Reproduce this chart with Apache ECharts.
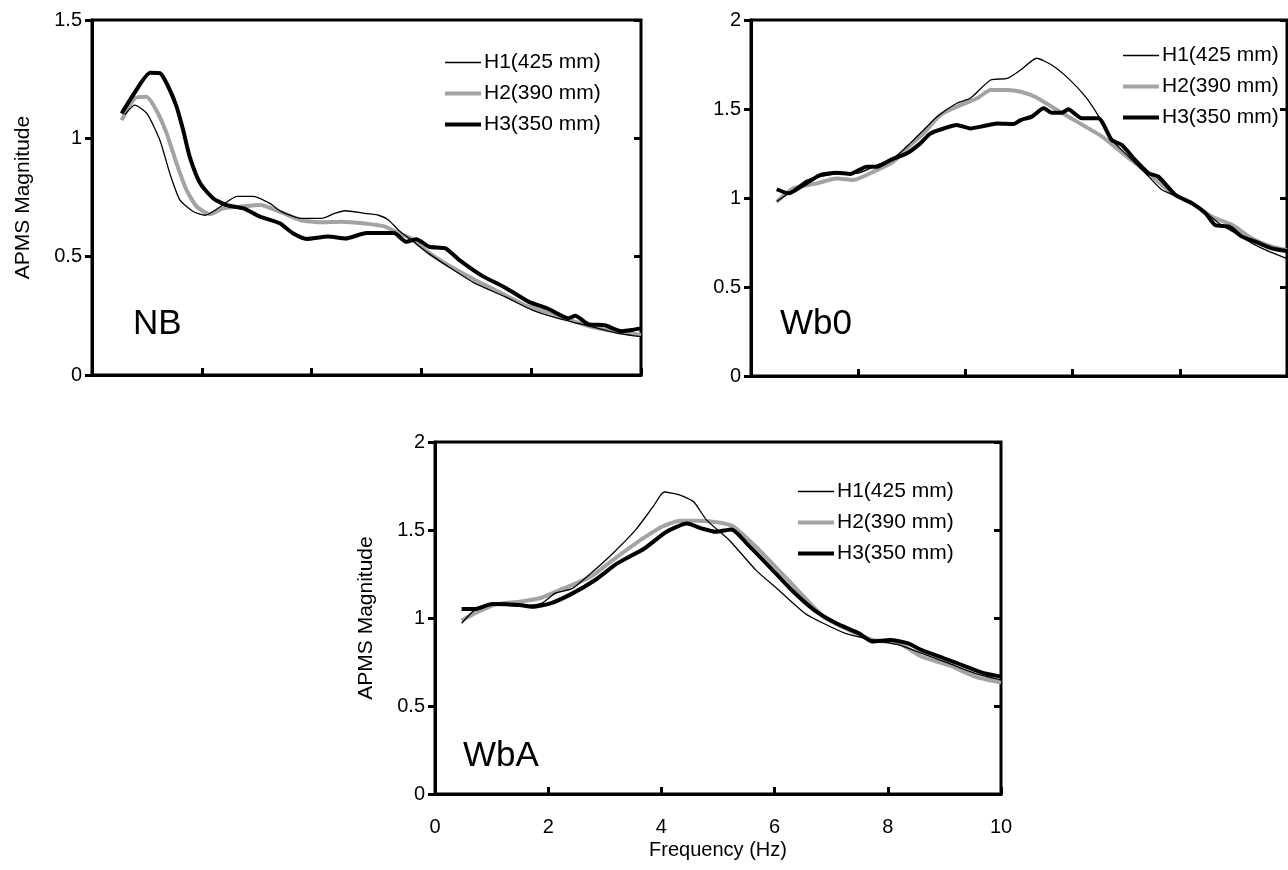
<!DOCTYPE html>
<html>
<head>
<meta charset="utf-8">
<script src="https://cdn.jsdelivr.net/npm/echarts@6/dist/echarts.min.js"></script>
<style>
  html, body { margin: 0; padding: 0; background: #fff; }
  #chart { width: 1288px; height: 870px; }
</style>
</head>
<body>
<div id="chart"></div>
<script>
// APMS magnitude vs frequency, three postures (NB, Wb0, WbA), three heights each
var seriesNames = ['H1(425 mm)', 'H2(390 mm)', 'H3(350 mm)'];
var panelNames = ['NB', 'Wb0', 'WbA'];
var yMax = [1.5, 2, 2];
var xTicks = [0, 2, 4, 6, 8, 10];

// NB
var nbH1F = [0.6, 0.78, 1.0, 1.24, 1.42, 1.6, 1.85, 2.06, 2.33, 2.64, 2.94, 3.24, 3.45, 3.81, 4.18, 4.42, 4.6, 4.97, 5.22, 5.4, 5.58, 5.82, 6.13, 6.49, 6.98, 7.52, 8.01, 8.49, 8.86, 9.22, 9.58, 10.0];
var nbH1V = [1.1, 1.14, 1.105, 0.99, 0.85, 0.74, 0.69, 0.675, 0.71, 0.755, 0.755, 0.725, 0.69, 0.662, 0.662, 0.683, 0.694, 0.683, 0.675, 0.655, 0.613, 0.57, 0.514, 0.458, 0.387, 0.331, 0.275, 0.239, 0.218, 0.197, 0.176, 0.162];
var nbH2F = [0.54, 0.78, 0.99, 1.17, 1.36, 1.54, 1.72, 1.91, 2.15, 2.39, 2.7, 3.06, 3.42, 3.79, 4.16, 4.54, 4.97, 5.34, 5.58, 5.82, 6.07, 6.43, 6.98, 7.52, 7.95, 8.37, 8.8, 9.22, 9.58, 10.0];
var nbH2V = [1.077, 1.169, 1.176, 1.12, 1.021, 0.894, 0.782, 0.711, 0.68, 0.704, 0.711, 0.718, 0.69, 0.655, 0.645, 0.648, 0.64, 0.627, 0.599, 0.577, 0.528, 0.472, 0.401, 0.338, 0.289, 0.261, 0.225, 0.197, 0.183, 0.169];
var nbH3F = [0.54, 0.75, 1.06, 1.24, 1.39, 1.54, 1.66, 1.78, 1.97, 2.21, 2.45, 2.76, 3.06, 3.42, 3.66, 3.91, 4.3, 4.62, 5.0, 5.5, 5.72, 5.91, 6.14, 6.44, 6.67, 7.1, 7.52, 7.95, 8.31, 8.68, 8.8, 9.04, 9.34, 9.65, 9.83, 10.0];
var nbH3V = [1.105, 1.183, 1.277, 1.275, 1.218, 1.134, 1.035, 0.922, 0.81, 0.746, 0.718, 0.704, 0.669, 0.641, 0.599, 0.575, 0.585, 0.577, 0.6, 0.6, 0.563, 0.574, 0.542, 0.535, 0.49, 0.42, 0.37, 0.31, 0.28, 0.24, 0.25, 0.215, 0.21, 0.185, 0.19, 0.197];

// Wb0
var wb0H1F = [0.48, 0.79, 1.04, 1.29, 1.66, 1.98, 2.35, 2.66, 2.97, 3.22, 3.47, 3.84, 4.09, 4.47, 4.78, 5.03, 5.33, 5.61, 5.92, 6.24, 6.49, 6.73, 7.05, 7.36, 7.67, 7.98, 8.35, 8.73, 9.04, 9.35, 9.66, 10.0];
var wb0H1V = [0.98, 1.045, 1.1, 1.12, 1.139, 1.139, 1.185, 1.223, 1.307, 1.382, 1.457, 1.532, 1.56, 1.663, 1.672, 1.719, 1.785, 1.747, 1.672, 1.569, 1.457, 1.326, 1.232, 1.139, 1.045, 1.007, 0.951, 0.858, 0.801, 0.745, 0.7, 0.66];
var wb0H2F = [0.48, 0.79, 1.23, 1.6, 1.91, 2.29, 2.66, 2.91, 3.22, 3.53, 3.91, 4.22, 4.47, 4.78, 5.03, 5.3, 5.61, 5.92, 6.24, 6.55, 6.86, 7.17, 7.49, 7.86, 8.23, 8.6, 8.98, 9.35, 9.72, 10.0];
var wb0H2V = [0.979, 1.054, 1.082, 1.11, 1.101, 1.148, 1.204, 1.279, 1.363, 1.466, 1.522, 1.56, 1.607, 1.607, 1.597, 1.569, 1.513, 1.457, 1.401, 1.345, 1.27, 1.195, 1.12, 1.026, 0.97, 0.895, 0.848, 0.773, 0.727, 0.708];
var wb0H3F = [0.48, 0.7, 0.98, 1.29, 1.6, 1.85, 2.16, 2.35, 2.6, 2.91, 3.16, 3.35, 3.6, 3.84, 4.09, 4.34, 4.59, 4.9, 5.03, 5.24, 5.46, 5.61, 5.8, 5.92, 6.17, 6.48, 6.73, 6.92, 7.17, 7.42, 7.6, 7.92, 8.23, 8.48, 8.66, 8.92, 9.16, 9.41, 9.72, 10.0];
var wb0H3V = [1.049, 1.026, 1.073, 1.129, 1.142, 1.135, 1.176, 1.176, 1.213, 1.251, 1.307, 1.363, 1.391, 1.41, 1.391, 1.404, 1.419, 1.416, 1.438, 1.457, 1.504, 1.479, 1.479, 1.498, 1.448, 1.448, 1.326, 1.298, 1.213, 1.139, 1.12, 1.017, 0.97, 0.914, 0.848, 0.839, 0.783, 0.755, 0.717, 0.702];

// WbA
var wbaH1F = [0.47, 0.7, 1.01, 1.49, 1.88, 2.12, 2.43, 2.75, 3.14, 3.54, 3.85, 4.05, 4.33, 4.57, 4.8, 5.2, 5.67, 6.07, 6.54, 6.86, 7.25, 7.73, 8.2, 8.59, 9.07, 9.54, 10.0];
var wbaH1V = [0.97, 1.045, 1.079, 1.068, 1.083, 1.14, 1.168, 1.253, 1.367, 1.499, 1.631, 1.716, 1.698, 1.66, 1.556, 1.442, 1.272, 1.159, 1.026, 0.97, 0.913, 0.875, 0.847, 0.8, 0.743, 0.686, 0.648];
var wbaH2F = [0.47, 0.7, 1.09, 1.49, 1.88, 2.27, 2.75, 3.14, 3.54, 4.01, 4.33, 4.64, 5.04, 5.28, 5.67, 6.07, 6.46, 6.86, 7.25, 7.73, 8.2, 8.59, 9.07, 9.54, 10.0];
var wbaH2V = [0.985, 1.026, 1.079, 1.093, 1.115, 1.168, 1.234, 1.329, 1.423, 1.518, 1.552, 1.552, 1.541, 1.518, 1.405, 1.272, 1.14, 1.008, 0.941, 0.875, 0.856, 0.781, 0.733, 0.667, 0.633];
var wbaH3F = [0.47, 0.7, 1.01, 1.49, 1.72, 2.04, 2.43, 2.83, 3.22, 3.7, 4.09, 4.45, 4.72, 4.96, 5.24, 5.51, 5.91, 6.3, 6.7, 7.09, 7.49, 7.73, 8.04, 8.36, 8.59, 8.99, 9.38, 9.7, 10.0];
var wbaH3V = [1.051, 1.051, 1.079, 1.074, 1.064, 1.083, 1.14, 1.216, 1.31, 1.395, 1.49, 1.537, 1.508, 1.49, 1.503, 1.423, 1.291, 1.159, 1.045, 0.97, 0.913, 0.866, 0.875, 0.856, 0.819, 0.771, 0.724, 0.686, 0.667];

var panelData = [
  [[nbH1F, nbH1V], [nbH2F, nbH2V], [nbH3F, nbH3V]],
  [[wb0H1F, wb0H1V], [wb0H2F, wb0H2V], [wb0H3F, wb0H3V]],
  [[wbaH1F, wbaH1V], [wbaH2F, wbaH2V], [wbaH3F, wbaH3V]]
];

function pairs(f, v) {
  var out = [];
  for (var i = 0; i < f.length; i++) {
    out.push([f[i], v[i]]);
  }
  return out;
}

var FONT = '"Liberation Sans", Arial, Helvetica, sans-serif';
var chart = echarts.init(document.getElementById('chart'));

var grids = [
  { left: 92, top: 20, width: 549, height: 355 },
  { left: 751, top: 20, width: 536, height: 356 },
  { left: 435, top: 442, width: 566, height: 352 }
];
var legendPos = [
  { left: 438, top: 47 },
  { left: 1116, top: 40 },
  { left: 791, top: 476 }
];
var labelPos = [
  { left: 128, top: 302 },
  { left: 775, top: 302 },
  { left: 458, top: 734 }
];
var lineStyles = [
  { color: '#000000', width: 1.3 },
  { color: '#a3a3a3', width: 4 },
  { color: '#000000', width: 4 }
];
var zOrder = [3, 2, 4];

var xAxes = [], yAxes = [], series = [], legends = [], titles = [];

for (var p = 0; p < 3; p++) {
  grids[p].show = true;
  grids[p].borderColor = '#000';
  grids[p].borderWidth = 3;
  grids[p].containLabel = false;

  xAxes.push({
    type: 'value', gridIndex: p, min: 0, max: 10, interval: 2,
    name: p === 2 ? 'Frequency (Hz)' : '',
    nameLocation: 'middle', nameGap: 46,
    nameTextStyle: { color: '#000', fontSize: 20, fontFamily: FONT },
    axisLine: { lineStyle: { color: '#000', width: 3 } },
    axisTick: { inside: true, length: 7, lineStyle: { color: '#000', width: 3 } },
    axisLabel: { show: p === 2, color: '#000', fontSize: 20, fontFamily: FONT, margin: 23 },
    splitLine: { show: false }
  });

  var yMain = yAxes.length;
  yAxes.push({
    type: 'value', gridIndex: p, min: 0, max: yMax[p], interval: 0.5,
    name: p === 1 ? '' : 'APMS Magnitude',
    nameLocation: 'middle', nameRotate: 90, nameGap: 58,
    nameTextStyle: { color: '#000', fontSize: 21, fontFamily: FONT },
    axisLine: { lineStyle: { color: '#000', width: 3 } },
    axisTick: { inside: false, length: 7, lineStyle: { color: '#000', width: 3 } },
    axisLabel: { color: '#000', fontSize: 20, fontFamily: FONT, margin: 10 },
    splitLine: { show: false }
  });
  // second copy of the axis only for the inner half of the crossing ticks
  yAxes.push({
    type: 'value', gridIndex: p, min: 0, max: yMax[p], interval: 0.5,
    axisLine: { show: false },
    axisTick: { inside: true, length: 7, lineStyle: { color: '#000', width: 3 } },
    axisLabel: { show: false },
    splitLine: { show: false }
  });

  for (var s = 0; s < 3; s++) {
    series.push({
      name: seriesNames[s],
      type: 'line',
      xAxisIndex: p,
      yAxisIndex: yMain,
      data: pairs(panelData[p][s][0], panelData[p][s][1]),
      showSymbol: false,
      symbol: 'none',
      smooth: 0.2,
      lineStyle: lineStyles[s],
      itemStyle: { color: lineStyles[s].color },
      z: zOrder[s],
      silent: true,
      animation: false
    });
  }

  var legendData = [];
  for (var k = 0; k < 3; k++) {
    legendData.push({
      name: seriesNames[k],
      lineStyle: { width: lineStyles[k].width, color: lineStyles[k].color }
    });
  }
  legends.push({
    data: legendData,
    orient: 'vertical',
    left: legendPos[p].left,
    top: legendPos[p].top,
    itemWidth: 36,
    itemHeight: 20,
    itemGap: 10,
    selectedMode: false,
    lineStyle: { width: 'inherit' },
    itemStyle: { opacity: 0 },
    textStyle: { color: '#000', fontSize: 21, fontFamily: FONT, padding: [0, 0, 0, -2] }
  });

  titles.push({
    text: panelNames[p],
    left: labelPos[p].left,
    top: labelPos[p].top,
    textStyle: { color: '#000', fontSize: 35, fontWeight: 'normal', fontFamily: FONT }
  });
}

var option = {
  backgroundColor: '#fff',
  animation: false,
  title: titles,
  legend: legends,
  grid: grids,
  xAxis: xAxes,
  yAxis: yAxes,
  series: series
};

chart.setOption(option);
window.addEventListener('resize', function () {
  chart.resize();
});
</script>
</body>
</html>
